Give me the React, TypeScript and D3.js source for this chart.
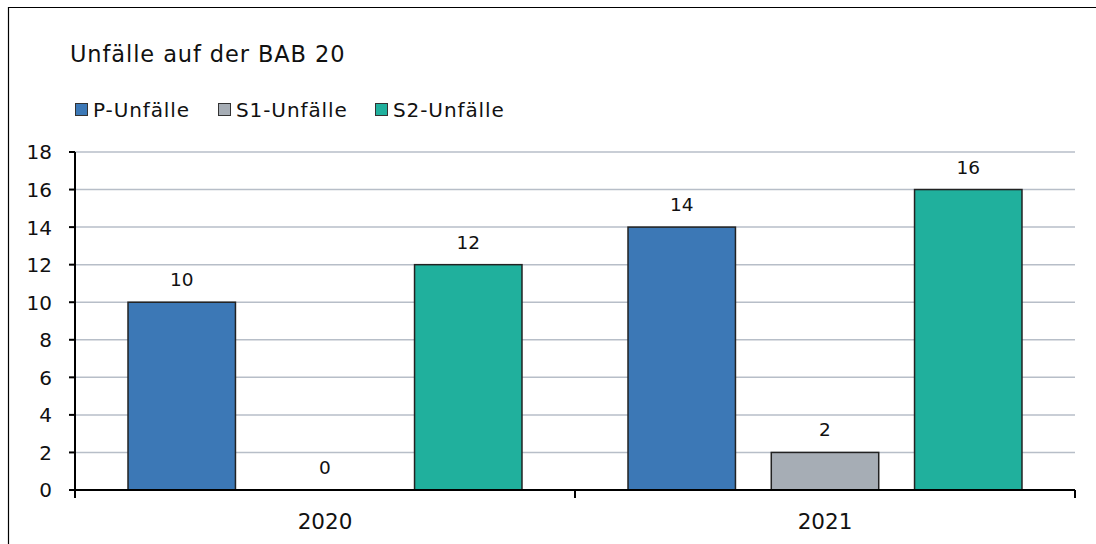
import React, { useEffect } from "react";
import * as d3 from "d3";

const categories = ["2020", "2021"];
const seriesNames = ["P-Unfälle", "S1-Unfälle", "S2-Unfälle"];
const pValues = [10, 14];
const s1Values = [0, 2];
const s2Values = [12, 16];
const colors = ["#3c78b6", "#a6adb5", "#20b09d"];
const yTicks = [0, 2, 4, 6, 8, 10, 12, 14, 16, 18];

const W = 1096;
const H = 544;
const left = 75;
const right = 1075;
const top = 152;
const bottom = 490;
const font = "'DejaVu Sans', sans-serif";

export default function App() {
  useEffect(() => {
    document.documentElement.style.overflow = "hidden";
    document.body.style.overflow = "hidden";
  }, []);
  const series = [pValues, s1Values, s2Values];
  const x0 = d3.scaleBand<string>().domain(categories).range([left, right]).paddingInner(0).paddingOuter(0);
  const x1 = d3
    .scaleBand<number>()
    .domain([0, 1, 2])
    .range([0, x0.bandwidth()])
    .paddingInner(0.25)
    .paddingOuter(0.37);
  const y = d3.scaleLinear().domain([0, 18]).range([bottom, top]);

  const legendX = [75, 218, 375];

  return (
    <svg
      width={W}
      height={H}
      style={{ position: "absolute", left: 0, top: 0 }}
      fontFamily={font}
    >
      <rect x={0} y={0} width={W} height={H} fill="#fff" />
      <path d={`M8.5,${H} V7.5 H${W}`} fill="none" stroke="#000" strokeWidth={1.2} />
      <text x={70} y={61.5} fontSize={22.5} letterSpacing={0.9} fill="#111">
        Unfälle auf der BAB 20
      </text>
      {seriesNames.map((n, i) => (
        <g key={n}>
          <rect x={legendX[i] + 0.5} y={103.5} width={12} height={12} fill={colors[i]} stroke="#333" strokeWidth={1} />
          <text x={legendX[i] + 18} y={116.5} fontSize={20} letterSpacing={0.9} fill="#111">
            {n}
          </text>
        </g>
      ))}
      {yTicks.map((t) =>
        t === 0 ? null : (
          <line key={"g" + t} x1={left} x2={right} y1={y(t)} y2={y(t)} stroke="#b7bec8" strokeWidth={1.5} />
        )
      )}
      {yTicks.map((t) => (
        <g key={"t" + t}>
          <line x1={left - 6} x2={left} y1={y(t)} y2={y(t)} stroke="#000" strokeWidth={2} />
          <text x={52} y={y(t)} dy="0.37em" textAnchor="end" fontSize={20} fill="#111">
            {t}
          </text>
        </g>
      ))}
      {categories.map((c, ci) =>
        series.map((vals, si) => {
          const bx = (x0(c) as number) + (x1(si) as number);
          const bw = x1.bandwidth();
          const v = vals[ci];
          return (
            <g key={c + si}>
              {v > 0 && (
                <rect
                  x={bx}
                  y={y(v)}
                  width={bw}
                  height={y(0) - y(v)}
                  fill={colors[si]}
                  stroke="#222"
                  strokeWidth={1.5}
                />
              )}
              <text x={bx + bw / 2} y={y(v) - 16} textAnchor="middle" fontSize={18.5} fill="#111">
                {v}
              </text>
            </g>
          );
        })
      )}
      <line x1={left} x2={left} y1={top} y2={bottom + 6} stroke="#000" strokeWidth={2} />
      <line x1={left} x2={right} y1={bottom} y2={bottom} stroke="#000" strokeWidth={2} />
      {[left, left + x0.bandwidth(), right].map((tx, i) => (
        <line key={"xt" + i} x1={tx} x2={tx} y1={bottom} y2={bottom + 8} stroke="#000" strokeWidth={2} />
      ))}
      {categories.map((c) => (
        <text
          key={"xl" + c}
          x={(x0(c) as number) + x0.bandwidth() / 2}
          y={529}
          textAnchor="middle"
          fontSize={21.5}
          fill="#111"
        >
          {c}
        </text>
      ))}
    </svg>
  );
}
